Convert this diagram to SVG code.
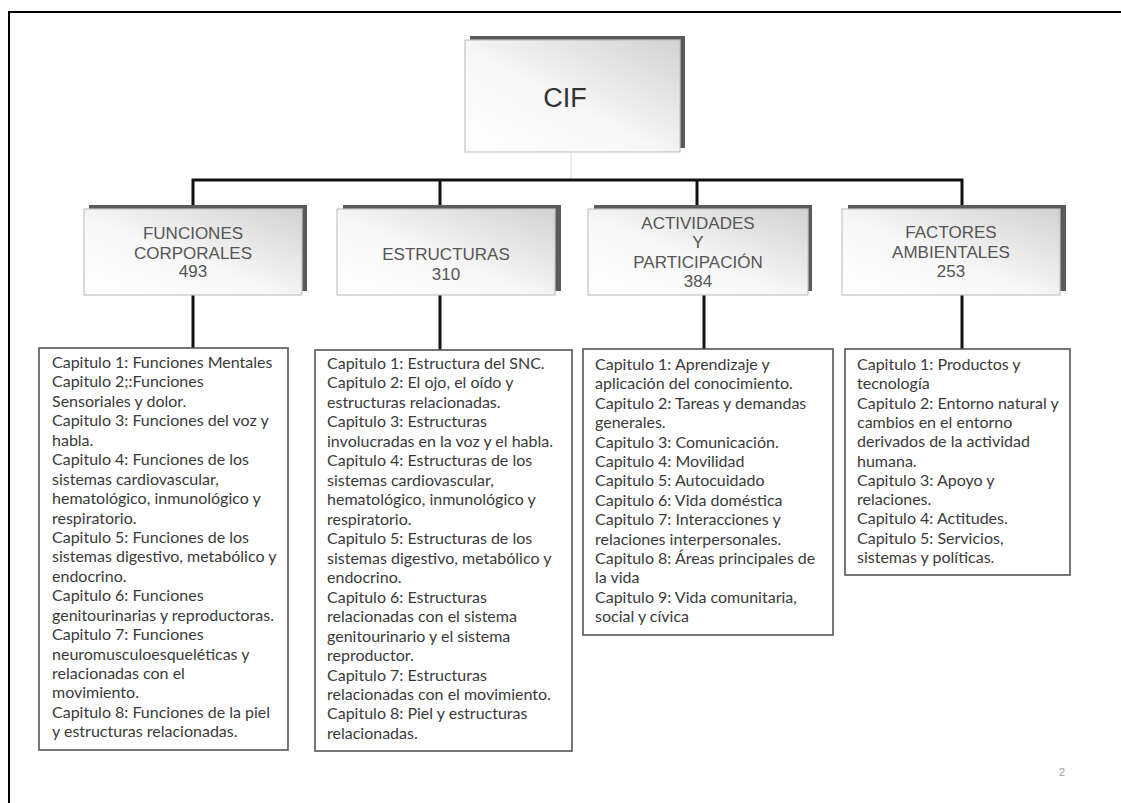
<svg xmlns="http://www.w3.org/2000/svg" width="1121" height="803" viewBox="0 0 1121 803">
  <defs>
    <linearGradient id="boxFill" x1="0" y1="1" x2="1" y2="0">
      <stop offset="0" stop-color="#ffffff"/>
      <stop offset="0.45" stop-color="#f7f7f7"/>
      <stop offset="1" stop-color="#d2d2d2"/>
    </linearGradient>
    <style>
      .shadow { fill: #5a5a5a; }
      .head { fill: url(#boxFill); stroke: #c4c4c4; stroke-width: 1.2; }
      .headText { font-family: "Liberation Sans", Arial, sans-serif; font-size: 17px; fill: #555555; text-anchor: middle; }
      .list { fill: #ffffff; stroke: #555555; stroke-width: 1.6; }
      .item { font-family: Lato, "Liberation Sans", sans-serif; font-size: 16px; fill: #3a3a3a; }
      .wire { stroke: #111111; stroke-width: 3; fill: none; }
    </style>
  </defs>

  <rect width="1121" height="803" fill="#ffffff"/>

  <!-- slide frame -->
  <path d="M9,803 V12 H1121" fill="none" stroke="#000000" stroke-width="2"/>

  <!-- connectors -->
  <g id="connectors">
    <line x1="571" y1="153" x2="571" y2="179" stroke="#e4e4e4" stroke-width="1.5"/>
    <path class="wire" d="M193,207 V180 H962 V207"/>
    <line class="wire" x1="440" y1="180" x2="440" y2="207"/>
    <line class="wire" x1="697" y1="180" x2="697" y2="207"/>
    <line class="wire" x1="193" y1="295" x2="193" y2="348"/>
    <line class="wire" x1="440" y1="295" x2="440" y2="350"/>
    <line class="wire" x1="704" y1="295" x2="704" y2="349"/>
    <line class="wire" x1="962" y1="295" x2="962" y2="349"/>
  </g>

  <!-- root -->
  <g id="cif">
    <rect class="shadow" x="470" y="36" width="215" height="112"/>
    <rect class="head" x="465" y="40" width="215" height="112"/>
    <text x="565" y="107" font-family="Liberation Sans, Arial, sans-serif" font-size="27" fill="#333333" text-anchor="middle">CIF</text>
  </g>

  <!-- component headers -->
  <g id="funciones">
    <rect class="shadow" x="89" y="205" width="218" height="86"/>
    <rect class="head" x="84" y="209" width="218" height="86"/>
    <text class="headText" x="193" y="239">FUNCIONES</text>
    <text class="headText" x="193" y="259">CORPORALES</text>
    <text class="headText" x="193" y="277">493</text>
  </g>
  <g id="estructuras">
    <rect class="shadow" x="343" y="205" width="218" height="86"/>
    <rect class="head" x="337" y="209" width="218" height="86"/>
    <text class="headText" x="446" y="260">ESTRUCTURAS</text>
    <text class="headText" x="446" y="280">310</text>
  </g>
  <g id="actividades">
    <rect class="shadow" x="594" y="205" width="218" height="86"/>
    <rect class="head" x="588" y="209" width="220" height="86"/>
    <text class="headText" x="698" y="229">ACTIVIDADES</text>
    <text class="headText" x="698" y="248">Y</text>
    <text class="headText" x="698" y="268">PARTICIPACIÓN</text>
    <text class="headText" x="698" y="287">384</text>
  </g>
  <g id="factores">
    <rect class="shadow" x="848" y="205" width="218" height="86"/>
    <rect class="head" x="842" y="209" width="218" height="86"/>
    <text class="headText" x="951" y="238">FACTORES</text>
    <text class="headText" x="951" y="258">AMBIENTALES</text>
    <text class="headText" x="951" y="277">253</text>
  </g>

  <!-- chapter lists -->
  <g id="lista-funciones">
    <rect class="list" x="39" y="348" width="249" height="402"/>
    <text class="item">
      <tspan x="52" y="368">Capitulo 1: Funciones Mentales</tspan>
      <tspan x="52" dy="19.44">Capitulo 2;:Funciones</tspan>
      <tspan x="52" dy="19.44">Sensoriales y dolor.</tspan>
      <tspan x="52" dy="19.44">Capitulo 3: Funciones del voz y</tspan>
      <tspan x="52" dy="19.44">habla.</tspan>
      <tspan x="52" dy="19.44">Capitulo 4: Funciones  de los</tspan>
      <tspan x="52" dy="19.44">sistemas cardiovascular,</tspan>
      <tspan x="52" dy="19.44">hematológico, inmunológico y</tspan>
      <tspan x="52" dy="19.44">respiratorio.</tspan>
      <tspan x="52" dy="19.44">Capitulo 5: Funciones de los</tspan>
      <tspan x="52" dy="19.44">sistemas digestivo, metabólico y</tspan>
      <tspan x="52" dy="19.44">endocrino.</tspan>
      <tspan x="52" dy="19.44">Capitulo 6: Funciones</tspan>
      <tspan x="52" dy="19.44">genitourinarias y reproductoras.</tspan>
      <tspan x="52" dy="19.44">Capitulo 7: Funciones</tspan>
      <tspan x="52" dy="19.44">neuromusculoesqueléticas y</tspan>
      <tspan x="52" dy="19.44">relacionadas con el</tspan>
      <tspan x="52" dy="19.44">movimiento.</tspan>
      <tspan x="52" dy="19.44">Capitulo 8: Funciones de la piel</tspan>
      <tspan x="52" dy="19.44">y estructuras relacionadas.</tspan>
    </text>
  </g>
  <g id="lista-estructuras">
    <rect class="list" x="315" y="350" width="257" height="401"/>
    <text class="item">
      <tspan x="327" y="369">Capitulo 1: Estructura del SNC.</tspan>
      <tspan x="327" dy="19.47">Capitulo 2: El ojo, el oído y</tspan>
      <tspan x="327" dy="19.47">estructuras relacionadas.</tspan>
      <tspan x="327" dy="19.47">Capitulo 3:  Estructuras</tspan>
      <tspan x="327" dy="19.47">involucradas en la voz y el habla.</tspan>
      <tspan x="327" dy="19.47">Capitulo 4: Estructuras de los</tspan>
      <tspan x="327" dy="19.47">sistemas cardiovascular,</tspan>
      <tspan x="327" dy="19.47">hematológico, inmunológico y</tspan>
      <tspan x="327" dy="19.47">respiratorio.</tspan>
      <tspan x="327" dy="19.47">Capitulo 5: Estructuras de los</tspan>
      <tspan x="327" dy="19.47">sistemas digestivo, metabólico y</tspan>
      <tspan x="327" dy="19.47">endocrino.</tspan>
      <tspan x="327" dy="19.47">Capitulo 6:  Estructuras</tspan>
      <tspan x="327" dy="19.47">relacionadas con el sistema</tspan>
      <tspan x="327" dy="19.47">genitourinario y el sistema</tspan>
      <tspan x="327" dy="19.47">reproductor.</tspan>
      <tspan x="327" dy="19.47">Capitulo 7: Estructuras</tspan>
      <tspan x="327" dy="19.47">relacionadas con el movimiento.</tspan>
      <tspan x="327" dy="19.47">Capitulo 8: Piel y estructuras</tspan>
      <tspan x="327" dy="19.47">relacionadas.</tspan>
    </text>
  </g>
  <g id="lista-actividades">
    <rect class="list" x="583" y="349" width="250" height="286"/>
    <text class="item">
      <tspan x="595" y="370">Capitulo 1: Aprendizaje y</tspan>
      <tspan x="595" dy="19.4">aplicación del conocimiento.</tspan>
      <tspan x="595" dy="19.4">Capitulo 2: Tareas y demandas</tspan>
      <tspan x="595" dy="19.4">generales.</tspan>
      <tspan x="595" dy="19.4">Capitulo 3: Comunicación.</tspan>
      <tspan x="595" dy="19.4">Capitulo 4: Movilidad</tspan>
      <tspan x="595" dy="19.4">Capitulo 5: Autocuidado</tspan>
      <tspan x="595" dy="19.4">Capitulo 6: Vida doméstica</tspan>
      <tspan x="595" dy="19.4">Capitulo 7: Interacciones y</tspan>
      <tspan x="595" dy="19.4">relaciones interpersonales.</tspan>
      <tspan x="595" dy="19.4">Capitulo 8: Áreas principales de</tspan>
      <tspan x="595" dy="19.4">la vida</tspan>
      <tspan x="595" dy="19.4">Capitulo 9: Vida comunitaria,</tspan>
      <tspan x="595" dy="19.4">social y cívica</tspan>
    </text>
  </g>
  <g id="lista-factores">
    <rect class="list" x="845" y="349" width="225" height="226"/>
    <text class="item">
      <tspan x="857" y="370">Capitulo 1: Productos y</tspan>
      <tspan x="857" dy="19.3">tecnología</tspan>
      <tspan x="857" dy="19.3">Capitulo 2: Entorno natural y</tspan>
      <tspan x="857" dy="19.3">cambios en el entorno</tspan>
      <tspan x="857" dy="19.3">derivados de la actividad</tspan>
      <tspan x="857" dy="19.3">humana.</tspan>
      <tspan x="857" dy="19.3">Capitulo 3: Apoyo y</tspan>
      <tspan x="857" dy="19.3">relaciones.</tspan>
      <tspan x="857" dy="19.3">Capitulo 4: Actitudes.</tspan>
      <tspan x="857" dy="19.3">Capitulo 5: Servicios,</tspan>
      <tspan x="857" dy="19.3">sistemas y políticas.</tspan>
    </text>
  </g>

  <!-- slide number -->
  <text x="1062" y="776" font-family="Liberation Sans, Arial, sans-serif" font-size="11" fill="#9a9a9a" text-anchor="middle">2</text>
</svg>
